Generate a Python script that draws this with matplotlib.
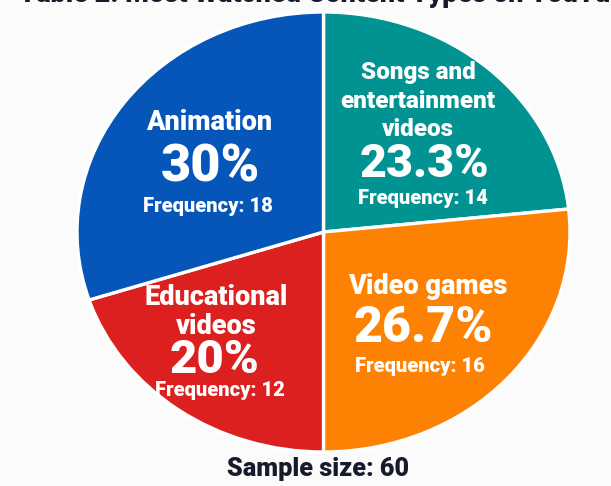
import matplotlib.pyplot as plt

categories = ['Songs and\nentertainment\nvideos', 'Video games', 'Educational\nvideos', 'Animation']
frequencies = [14, 16, 12, 18]
percent_labels = ['23.3%', '26.7%', '20%', '30%']
colors = ['#009392', '#fd8204', '#dc1f1f', '#0656b9']
sample_size = 60
title = 'Table 2: Most Watched Content Types on YouTube'

plt.rcParams['font.family'] = ['Roboto', 'DejaVu Sans']

fig = plt.figure(figsize=(6.11, 4.86), dpi=100)
fig.patch.set_facecolor('#fbfbfb')
ax = fig.add_axes([77 / 611, 34 / 486, 493 / 611, 440 / 486])

ax.pie(frequencies, colors=colors, startangle=90, counterclock=False,
       wedgeprops=dict(edgecolor='white', linewidth=2.4))
ax.set_aspect('auto')
ax.set_xlim(-1, 1)
ax.set_ylim(-1, 1)


def px(x, y):
    # pixel position of the reference -> figure fraction
    return x / 611, 1 - y / 486


# label blocks: (category line positions, percent position, frequency position, name size, pct size)
label_pos = [
    ([(418, 73), (418, 101), (418, 129)], (424, 164), (423, 199), 17.5, 33.5),
    ([(428, 286)], (423, 328), (420, 366), 19.5, 36),
    ([(216, 297), (216, 326)], (215, 360), (220, 391), 19.5, 34),
    ([(209, 123)], (210, 168), (208, 207), 19.5, 37.5),
]

for cat, pct, freq, (lines_pos, pct_pos, freq_pos, name_fs, pct_fs) in zip(
        categories, percent_labels, frequencies, label_pos):
    for line, pos in zip(cat.split('\n'), lines_pos):
        fig.text(*px(*pos), line, color='white', fontsize=name_fs, fontweight='black',
                 ha='center', va='center')
    fig.text(*px(*pct_pos), pct, color='white', fontsize=pct_fs, fontweight='black',
             ha='center', va='center')
    fig.text(*px(*freq_pos), f'Frequency: {freq}', color='white', fontsize=14.5,
             fontweight='black', ha='center', va='center')

fig.text(*px(318, 469), f'Sample size: {sample_size}', color='#161a2b', fontsize=18.2,
         fontweight='black', ha='center', va='center')
# the title sits mostly above the top edge, as in the cropped reference
fig.text(*px(330, 2), title, color='#161a2b', fontsize=19.5, fontweight='black',
         ha='center', va='baseline')

fig.savefig('out.png', dpi=100, facecolor=fig.get_facecolor())
